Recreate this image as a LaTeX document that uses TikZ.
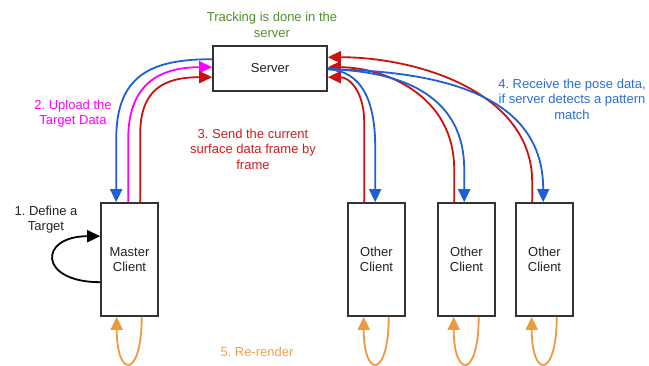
\documentclass[tikz,border=0pt]{standalone}
\usepackage{fontspec}
\setmainfont{Liberation Sans}
\usetikzlibrary{arrows.meta,calc}

\definecolor{boxgray}{HTML}{333333}
\definecolor{inkgray}{HTML}{222222}
\definecolor{linkblue}{HTML}{1E5FD6}
\definecolor{linkred}{HTML}{CC1111}
\definecolor{linkmag}{HTML}{FF00FF}
\definecolor{linkorange}{HTML}{EE9A3C}
\definecolor{trackgreen}{HTML}{4E8F2A}
\definecolor{textblue}{HTML}{2B6CD4}
\definecolor{textred}{HTML}{D01C1C}
\definecolor{textorange}{HTML}{F0A050}

\frenchspacing

\begin{document}
\begin{tikzpicture}[x=1pt,y=-1pt,
  box/.style={draw=boxgray, line width=1.6pt, fill=white, align=center,
    inner sep=0pt, text=inkgray, font=\fontsize{13}{15.5}\selectfont},
  client/.style={box, minimum width=57pt, minimum height=113pt},
  link/.style={line width=1.8pt, -{Triangle[width=12pt,length=13pt]}},
  lbl/.style={align=center, inner sep=0pt, font=\fontsize{13}{15.5}\selectfont}]

\useasboundingbox (0,0) rectangle (649,365);

% boxes
\node[box, minimum width=114pt, minimum height=45pt] (server) at (270,68.5) {Server};
\node[client] (master) at (129.5,259.5) {Master\\Client};
\node[client] (other1) at (376.5,259.5) {Other\\Client};
\node[client] (other2) at (466.5,259.5) {Other\\Client};
\node[client] (other3) at (544.5,259.5) {Other\\Client};

% labels
\node[lbl, text=trackgreen] (ltrack) at (272,25) {Tracking is done in the\\server};
\node[lbl, text=linkmag] (lupload) at (73,113.5) {2. Upload the\\Target Data};
\node[lbl, text=textred] (lsend) at (253,149) {3. Send the current\\surface data frame by\\frame};
\node[lbl, text=textblue] (lreceive) at (572,99) {4. Receive the pose data,\\if server detects a pattern\\match};
\node[lbl, text=inkgray] (ldefine) at (46,219.5) {1. Define a\\Target};
\node[lbl, text=textorange] (lrender) at (257,352) {5. Re-render};

% step 1: define a target on the master client
\draw[link, color=black]
  ($(master.north west)+(0,80)$) .. controls +(-62,0) and +(-62,0) .. ($(master.north west)+(0,34)$);

% master <-> server
\draw[link, color=linkblue]
  ($(server.north west)+(0,14)$) .. controls +(-60,0) and +(0,-65) .. ($(master.north west)+(16,-63)$)
  -- ($(master.north west)+(16,0)$);
\draw[link, color=linkmag]
  ($(master.north west)+(28,0)$) -- ($(master.north west)+(28,-63)$)
  .. controls +(0,-55) and +(-53,0) .. ($(server.north west)+(0,22)$);
\draw[link, color=linkred]
  ($(master.north west)+(40,0)$) -- ($(master.north west)+(40,-68)$)
  .. controls +(0,-45) and +(-48,0) .. ($(server.north west)+(0,32)$);

% other clients -> server (surface data)
\draw[link, color=linkred]
  ($(other1.north west)+(17,0)$) -- ($(other1.north west)+(17,-80)$)
  .. controls +(0,-30) and +(22,0) .. ($(server.north east)+(0,32)$);
\draw[link, color=linkred]
  ($(other2.north west)+(17,0)$) -- ($(other2.north west)+(17,-33)$)
  .. controls +(0,-75) and +(55,0) .. ($(server.north east)+(0,22)$);
\draw[link, color=linkred]
  ($(other3.north west)+(17,0)$) -- ($(other3.north west)+(17,-20)$)
  .. controls +(0,-90) and +(90,0) .. ($(server.north east)+(0,12)$);

% server -> other clients (pose data)
\draw[link, color=linkblue]
  ($(server.north east)+(0,24)$) .. controls +(35,2) and +(0,-45) .. ($(other1.north west)+(28,-55)$)
  -- ($(other1.north west)+(28,0)$);
\draw[link, color=linkblue]
  ($(server.north east)+(0,24)$) .. controls +(80,2) and +(0,-70) .. ($(other2.north west)+(27,-33)$)
  -- ($(other2.north west)+(27,0)$);
\draw[link, color=linkblue]
  ($(server.north east)+(0,24)$) .. controls +(143,2) and +(0,-80) .. ($(other3.north west)+(28,-13)$)
  -- ($(other3.north west)+(28,0)$);

% step 5: re-render loops under every client
\foreach \c in {master,other1,other2,other3} {
  \draw[link, color=linkorange]
    ($(\c.south west)+(41.5,0)$) .. controls +(0,62) and +(0,62) .. ($(\c.south west)+(16.5,0)$);
}
\end{tikzpicture}
\end{document}
